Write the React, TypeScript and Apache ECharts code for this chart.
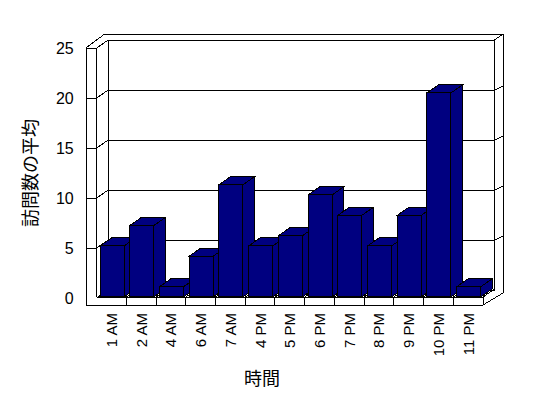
import React, { useEffect, useRef } from "react";
import * as echarts from "echarts";

const categories = ["1 AM", "2 AM", "4 AM", "6 AM", "7 AM", "4 PM", "5 PM", "6 PM", "7 PM", "8 PM", "9 PM", "10 PM", "11 PM"];
const visits = [5, 7, 1, 4, 11, 5, 6, 10, 8, 5, 8, 20, 1];
const yTicks = [0, 5, 10, 15, 20, 25];
const yTitle = "訪問数の平均";
const xTitle = "時間";

const DX = 11.5;
const DY = -8;
const WALL = 10.7;
const RW = 8.5;
const NAVY = "#000080";

const ln = (x1: number, y1: number, x2: number, y2: number) => ({
  type: "line",
  shape: { x1, y1, x2, y2 },
  style: { stroke: "#000", lineWidth: 1, fill: null },
});

export default function App() {
  const ref = useRef<HTMLDivElement>(null);
  useEffect(() => {
    if (!ref.current) return;
    const chart = echarts.init(ref.current, null, { renderer: "svg" });
    const n = categories.length;
    const topVal = yTicks[yTicks.length - 1];

    const renderFrame = (params: any, api: any) => {
      const v = api.value(1);
      const [cx0, yf] = api.coord([0, v]);
      const bw = api.size([1, 0])[0];
      const s = cx0 - bw / 2;
      const e = s + bw * n;
      const children: any[] = [];
      const [, y0] = api.coord([0, 0]);
      const [, y25] = api.coord([0, topVal]);
      const floorTop = y0 - 1;
      const floorBot = y0 + 7;
      if (v > 0) children.push(ln(s - WALL, yf, s, yf));
      children.push(ln(s, yf, s + DX, yf + DY));
      children.push(ln(s + DX, yf + DY, e + DX, yf + DY));
      if (v > 0 && v < topVal) children.push(ln(e + DX, yf + DY, e + DX + RW, yf + DY - 4));
      if (v === topVal) children.push(ln(e + DX, yf + DY, e + DX + RW, y25 + DY - 6));
      if (params.dataIndex === 0) {
        children.push(ln(s - WALL, y25, s - WALL, floorBot));
        children.push(ln(s, y25, s, floorTop));
        children.push(ln(s - WALL, y25, s, y25));
        children.push(ln(s - WALL, y25, s + DX - 3.5, y25 + DY - 6));
        children.push(ln(s + DX - 3.5, y25 + DY - 6, e + DX + RW, y25 + DY - 6));
        children.push(ln(e + DX + RW, y25 + DY - 6, e + DX + RW, y0 - 5));
        children.push(ln(e + DX + RW, y0 - 5, e, floorBot));
        children.push(ln(s + DX, y25 + DY, s + DX, y0 + DY));
        children.push(ln(e + DX, y25 + DY, e + DX, floorTop + DY));
        children.push(ln(e, floorTop, e + DX, floorTop + DY));
        children.push(ln(s, floorTop, e, floorTop));
        children.push(ln(s - WALL, floorBot, e, floorBot));
        children.push(ln(e, floorTop, e, floorBot));
        for (let k = 1; k < n; k++) {
          const x = s + k * bw;
          children.push(ln(x, floorTop, x, floorBot));
          children.push(ln(x, floorTop, x + DX, floorTop + DY));
        }
      }
      return { type: "group", children };
    };

    const renderBar = (params: any, api: any) => {
      const i = api.value(0);
      const v = api.value(1);
      const [cx, yt] = api.coord([i, v]);
      const [, yb] = api.coord([i, 0]);
      const bw = api.size([1, 0])[0];
      const w = bw * 0.81;
      const x0 = cx - w / 2 + 0.5;
      const x1 = x0 + w;
      const st = { fill: NAVY, stroke: "#000", lineWidth: 1 };
      return {
        type: "group",
        children: [
          {
            type: "polygon",
            shape: { points: [[x1, yt], [x1 + DX, yt + DY], [x1 + DX, yb + DY], [x1, yb]] },
            style: st,
          },
          {
            type: "polygon",
            shape: { points: [[x0, yt], [x1, yt], [x1 + DX, yt + DY], [x0 + DX, yt + DY]] },
            style: st,
          },
          {
            type: "polygon",
            shape: { points: [[x0, yt], [x1, yt], [x1, yb], [x0, yb]] },
            style: st,
          },
        ],
      };
    };

    chart.setOption({
      animation: false,
      backgroundColor: "#fff",
      grid: { left: 96.7, right: 65, top: 48, bottom: 100 },
      xAxis: {
        type: "category",
        data: categories,
        axisLine: { show: false },
        axisTick: { show: false },
        splitLine: { show: false },
        axisLabel: {
          interval: 0,
          rotate: 90,
          margin: 15,
          fontSize: 15,
          color: "#000",
          fontFamily: "Liberation Sans",
        },
      },
      yAxis: [
        {
          type: "value",
          min: 0,
          max: 25,
          interval: 5,
          axisLine: { show: false },
          axisTick: { show: false },
          splitLine: { show: false },
          axisLabel: { margin: 23, fontSize: 16, color: "#000", fontFamily: "Liberation Sans" },
          name: yTitle,
          nameLocation: "middle",
          nameGap: 59,
          nameRotate: 90,
          nameTextStyle: { fontSize: 18, color: "#000", fontFamily: "Noto Sans CJK JP" },
        },
        {
          type: "value",
          min: -0.1,
          max: 24.4,
          show: false,
          splitLine: { show: false },
        },
      ],
      graphic: [
        {
          type: "text",
          x: 262,
          y: 377,
          style: {
            text: xTitle,
            fontSize: 18,
            fill: "#000",
            fontFamily: "Noto Sans CJK JP",
            align: "center",
            verticalAlign: "middle",
          },
        },
      ],
      series: [
        {
          type: "custom",
          yAxisIndex: 0,
          clip: false,
          silent: true,
          data: yTicks.map((v) => [0, v]),
          renderItem: renderFrame,
          z: 1,
        },
        {
          type: "custom",
          yAxisIndex: 1,
          clip: false,
          data: visits.map((v, i) => [i, v]),
          renderItem: renderBar,
          z: 2,
        },
      ],
    });
    return () => chart.dispose();
  }, []);

  return (
    <>
      <style>{`#chart svg path, #chart svg line, #chart svg polygon { shape-rendering: crispEdges; }`}</style>
      <div
        id="chart"
        ref={ref}
        style={{ position: "absolute", left: 0, top: 0, width: 548, height: 398 }}
      />
    </>
  );
}
